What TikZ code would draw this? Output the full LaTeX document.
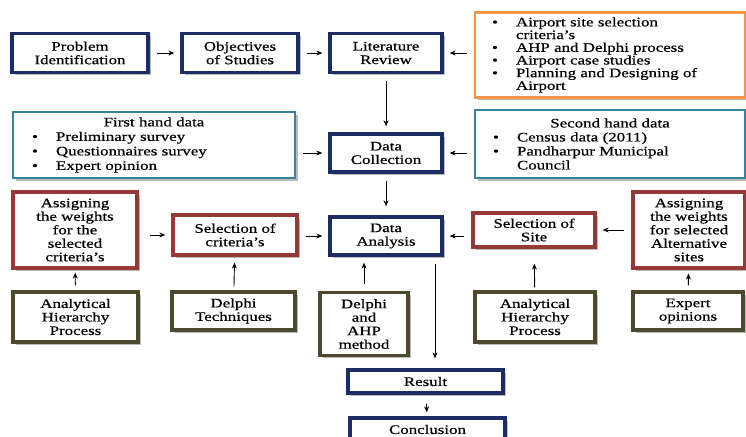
\documentclass[tikz,border=0pt]{standalone}
\usepackage{fontspec}
\setmainfont{Liberation Serif}[FakeStretch=1.3,FakeBold=0.6]
\usetikzlibrary{arrows.meta,shadows}
\definecolor{navy}{RGB}{28,45,102}
\definecolor{brick}{RGB}{150,56,54}
\definecolor{olivebr}{RGB}{78,72,46}
\definecolor{tealb}{RGB}{52,132,156}
\definecolor{orangeb}{RGB}{246,150,72}
\setlength\parindent{0pt}
\newcommand\bitem[1]{\makebox[24pt][l]{\textbullet}#1}
\newcommand\bcont[1]{\hspace*{24pt}#1}
\tikzset{
   box/.style={fill=white,line width=3.3pt,align=center,inner sep=2pt,
      font=\fontsize{13}{13.5}\selectfont,
      drop shadow={shadow xshift=2.5pt,shadow yshift=-2.5pt,fill=black!60,opacity=.45}},
   navybox/.style={box,draw=navy},
   redbox/.style={box,draw=brick},
   olivebox/.style={box,draw=olivebr},
   listbox/.style={box,align=left,line width=2.8pt},
   arr/.style={-{Stealth[length=6pt,width=5pt]},line width=.9pt,
      shorten <=7pt,shorten >=6pt}
}
\begin{document}
\begin{tikzpicture}[x=1pt,y=-1pt]
   \clip (0,0) rectangle (746,436);

   \node[navybox,minimum width=136,minimum height=39] (prob) at (80,53) {Problem\\Identification};
   \node[navybox,minimum width=116,minimum height=39] (obj) at (240,53) {Objectives\\of Studies};
   \node[navybox,minimum width=112,minimum height=39] (lit) at (386,53) {Literature\\Review};
   \node[listbox,draw=orangeb,minimum width=270,minimum height=85,text width=236,
      inner xsep=17,font=\fontsize{13}{12.7}\selectfont] (rev) at (610,55)
      {\bitem{Airport site selection}\\\bcont{criteria's}\\\bitem{AHP and Delphi process}\\
       \bitem{Airport case studies}\\\bitem{Planning and Designing of}\\\bcont{Airport}};

   \node[listbox,draw=tealb,minimum width=282,minimum height=66,text width=244,
      inner xsep=19,font=\fontsize{13}{14.5}\selectfont] (first) at (154,145)
      {\makebox[\hsize][c]{First hand data}\\\bitem{Preliminary survey}\\
       \bitem{Questionnaires survey}\\\bitem{Expert opinion}};
   \node[navybox,minimum width=112,minimum height=38] (coll) at (386,153) {Data\\Collection};
   \node[listbox,draw=tealb,minimum width=270,minimum height=68,text width=234,
      inner xsep=18,font=\fontsize{13}{14}\selectfont] (second) at (610,144)
      {\makebox[\hsize][c]{Second hand data}\\\bitem{Census data (2011)}\\
       \bitem{Pandharpur Municipal}\\\bcont{Council}};

   \node[redbox,minimum width=124,minimum height=76] (wcrit) at (75,230)
      {Assigning\\the weights\\for the\\selected\\criteria's};
   \node[redbox,minimum width=124,minimum height=40] (selcrit) at (235,235) {Selection of\\criteria's};
   \node[navybox,minimum width=112,minimum height=38] (anal) at (386,236) {Data\\Analysis};
   \node[redbox,minimum width=122,minimum height=34] (selsite) at (534,230) {Selection of\\Site};
   \node[redbox,minimum width=112,minimum height=76] (wsite) at (689,230)
      {Assigning\\the weights\\for selected\\Alternative\\sites};

   \node[olivebox,minimum width=125,minimum height=50] (ahpa) at (75.5,317) {Analytical\\Hierarchy\\Process};
   \node[olivebox,minimum width=123,minimum height=38] (delphi) at (233.5,311) {Delphi\\Techniques};
   \node[olivebox,minimum width=88,minimum height=63] (dahp) at (364,324) {Delphi\\and\\AHP\\method};
   \node[olivebox,minimum width=120,minimum height=50] (ahpb) at (535,317) {Analytical\\Hierarchy\\Process};
   \node[olivebox,minimum width=110,minimum height=38] (expert) at (688,311) {Expert\\opinions};

   \node[navybox,minimum width=155,minimum height=23] (res) at (425.5,381.5) {Result};
   \node[navybox,minimum width=155,minimum height=23] (concl) at (427.5,429.5) {Conclusion};

   \draw[arr] (prob) -- (obj);
   \draw[arr] (obj) -- (lit);
   \draw[arr] (rev.west |- lit) -- (lit);
   \draw[arr] (lit) -- (coll);
   \draw[arr] (first.east |- coll) -- (coll);
   \draw[arr] (second.west |- coll) -- (coll);
   \draw[arr,shorten >=9pt] (coll) -- (anal);
   \draw[arr,shorten <=11pt] (wcrit.east |- selcrit) -- (selcrit);
   \draw[arr] (selcrit.east |- anal) -- (anal);
   \draw[arr] (selsite.west |- anal) -- (anal);
   \draw[arr] (wsite) -- (selsite);
   \draw[arr,shorten <=5pt,shorten >=3pt] (ahpa) -- (wcrit);
   \draw[arr,shorten <=4pt] (delphi) -- (selcrit);
   \draw[arr] (dahp.north) -- (dahp.north |- anal.south);
   \draw[arr,shorten <=3pt,shorten >=15pt] (ahpb) -- (selsite);
   \draw[arr,shorten <=5pt,shorten >=4pt] (expert) -- (wsite);
   \draw[arr,shorten >=10pt] ([xshift=49pt]anal.south) -- ([xshift=49pt]anal.south |- res.north);
   \draw[arr,shorten <=9pt,shorten >=4pt] (res) -- (concl);
\end{tikzpicture}
\end{document}
